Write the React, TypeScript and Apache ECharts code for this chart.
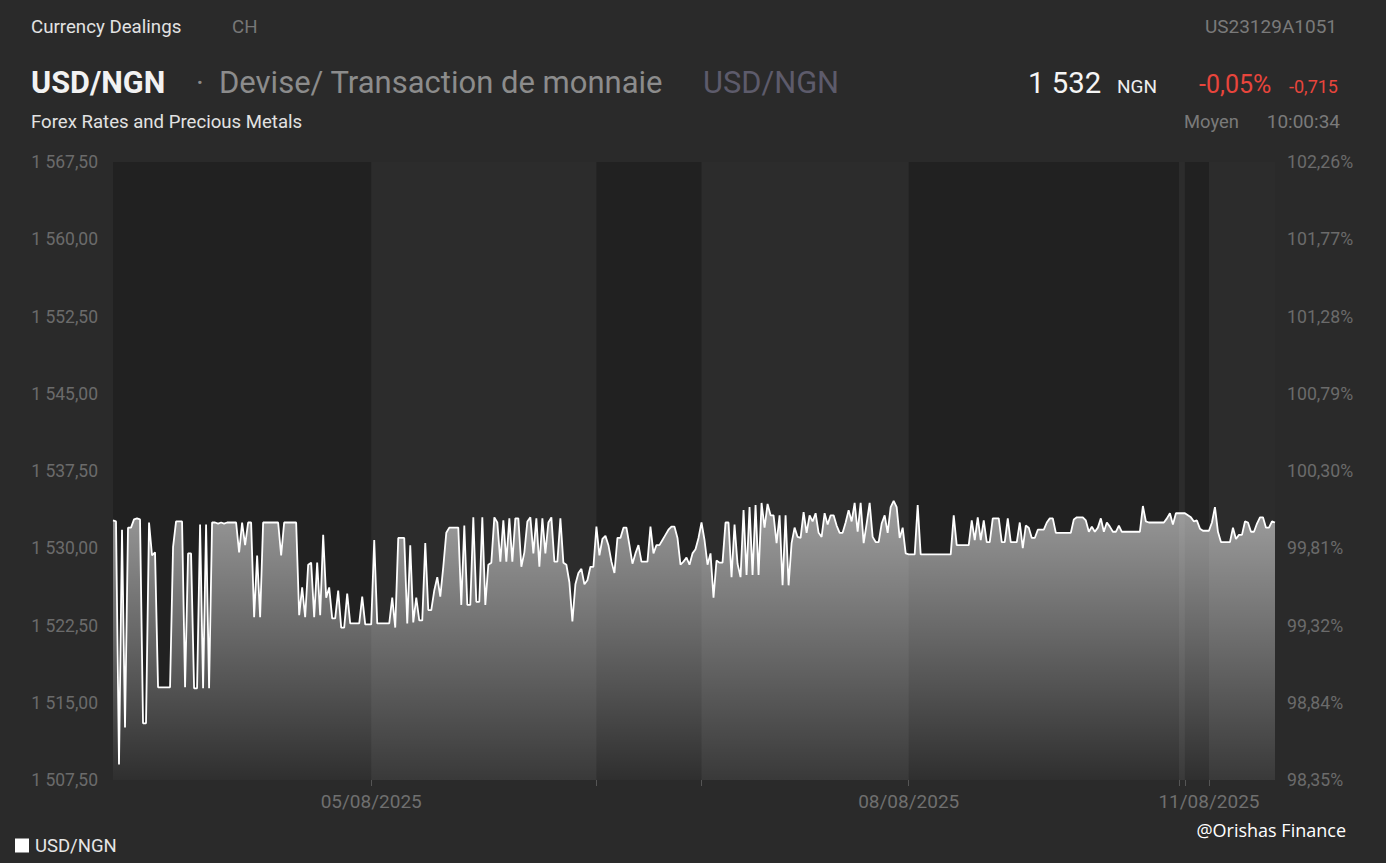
import React, { useEffect, useRef } from 'react';
import * as echarts from 'echarts';

// ---- data ----
const dayLabels = ['04/08/2025', '05/08/2025', '06/08/2025', '07/08/2025', '08/08/2025', '09/08/2025', '10/08/2025', '11/08/2025'];

const day04 = [
  1532.7, 1532.6, 1509.0, 1531.8, 1512.6, 1532.0, 1532.0, 1532.8, 1532.9, 1532.8,
  1513.0, 1513.0, 1532.5, 1529.3, 1529.6, 1516.5, 1516.5, 1516.5, 1516.5, 1516.5,
  1530.1, 1532.6, 1532.6, 1532.6, 1516.5, 1529.5, 1529.5, 1516.4, 1516.4, 1532.3,
  1516.4, 1532.3, 1516.4, 1532.5, 1532.5, 1532.4, 1532.5, 1532.4, 1532.5, 1532.5,
  1532.5, 1532.5, 1529.6, 1532.5, 1530.3, 1532.5, 1532.5, 1523.3, 1529.3, 1523.3,
  1532.5, 1532.5, 1532.5, 1532.5, 1532.5, 1532.5, 1529.3, 1532.5, 1532.5, 1532.5,
  1532.5, 1532.5, 1523.5, 1526.2, 1523.3, 1528.4, 1528.6, 1523.3, 1528.6, 1523.5,
  1531.3, 1525.2, 1526.2, 1523.2, 1523.2, 1525.9, 1522.3, 1522.3, 1525.6, 1522.7,
  1522.7, 1522.7, 1522.7, 1525.3, 1522.6, 1522.6,
];
const day05 = [
  1522.6, 1530.8, 1522.7, 1522.7, 1522.7, 1522.7, 1522.7, 1525.2, 1522.3, 1531.0,
  1531.0, 1531.0, 1522.7, 1530.3, 1522.8, 1525.2, 1523.0, 1523.0, 1530.5, 1524.0,
  1524.0, 1525.9, 1527.2, 1525.3, 1528.2, 1531.5, 1532.0, 1532.0, 1532.0, 1532.0,
  1524.5, 1532.2, 1524.5, 1524.5, 1533.0, 1524.8, 1524.8, 1533.0, 1524.5, 1528.4,
  1528.6, 1533.0, 1532.5, 1528.7, 1532.7, 1528.7, 1532.9, 1528.7, 1532.9, 1532.9,
  1528.2, 1529.6, 1532.6, 1533.0, 1529.5, 1532.9, 1528.2, 1532.9, 1529.5, 1532.5,
  1533.0, 1528.7, 1528.7, 1532.9, 1528.6, 1528.4, 1526.7, 1522.9, 1526.5, 1527.6,
  1528.0, 1526.5, 1526.9, 1528.2, 1528.2,
];
const day06 = [
  1532.1, 1529.3, 1530.9, 1531.2, 1530.3, 1528.7, 1527.6, 1531.0, 1531.0, 1532.0,
  1532.0, 1530.3, 1528.5, 1529.5, 1530.3, 1528.7, 1528.7, 1528.7, 1532.1, 1529.5,
  1530.3, 1530.3, 1530.8, 1531.3, 1531.8, 1532.1, 1532.1, 1531.0, 1528.4, 1528.7,
  1529.1, 1528.4, 1529.5, 1529.9, 1531.0,
];
const day07 = [
  1532.5, 1530.8, 1528.4, 1529.5, 1525.2, 1528.8, 1528.6, 1528.6, 1532.5, 1532.5,
  1527.2, 1532.3, 1528.5, 1527.2, 1533.7, 1527.4, 1534.0, 1527.4, 1534.2, 1527.4,
  1534.4, 1532.0, 1534.3, 1533.2, 1533.2, 1530.5, 1533.2, 1526.4, 1533.2, 1526.4,
  1530.5, 1532.0, 1531.1, 1531.0, 1533.5, 1531.5, 1533.2, 1532.6, 1533.4, 1531.5,
  1531.1, 1533.4, 1532.3, 1533.2, 1533.2, 1532.2, 1531.5, 1531.5, 1532.5, 1533.7,
  1532.6, 1534.4, 1531.6, 1534.4, 1530.5, 1532.4, 1534.4, 1531.1, 1530.6, 1530.6,
  1532.4, 1533.2, 1531.5, 1534.0, 1534.6, 1534.0, 1531.0, 1532.0, 1529.5,
];
const day08 = [
  1529.4, 1529.4, 1529.4, 1534.2, 1529.4, 1529.4, 1529.4, 1529.4, 1529.4, 1529.4,
  1529.4, 1529.4, 1529.4, 1529.4, 1529.4, 1533.2, 1530.3, 1530.3, 1530.3, 1530.3,
  1530.3, 1532.7, 1530.8, 1533.0, 1530.8, 1532.7, 1530.6, 1530.6, 1532.9, 1532.9,
  1532.9, 1530.6, 1530.6, 1532.9, 1530.6, 1530.6, 1530.6, 1532.5, 1530.0, 1532.2,
  1532.0, 1531.0, 1531.0, 1531.8, 1531.8, 1531.8, 1532.5, 1532.9, 1532.9, 1531.5,
  1531.5, 1531.5, 1531.5, 1531.5, 1531.5, 1532.8, 1533.0, 1533.0, 1533.0, 1532.7,
  1531.6, 1532.1, 1531.6, 1532.0, 1532.9, 1531.6, 1532.5, 1532.1, 1531.6, 1531.6,
  1532.2, 1531.6, 1531.6, 1531.6, 1531.6, 1531.6, 1531.6, 1531.6, 1534.1, 1532.6,
  1532.5, 1532.5, 1532.5, 1532.5, 1532.5, 1532.5, 1532.9, 1533.4, 1532.3, 1533.4,
];
const day09 = [1533.4, 1533.4];
const day10 = [1533.4, 1533.2, 1533.0, 1532.6, 1532.7, 1531.9, 1531.7, 1531.7];
const day11 = [
  1531.7, 1532.5, 1534.0, 1531.6, 1530.6, 1530.6, 1530.6, 1530.6, 1532.0, 1530.9,
  1531.3, 1531.3, 1532.6, 1532.5, 1531.6, 1531.6, 1532.4, 1533.0, 1533.0, 1532.0,
  1532.0, 1532.6, 1532.5,
];
const dayValues = [day04, day05, day06, day07, day08, day09, day10, day11];

const labelledDays = ['05/08/2025', '08/08/2025', '11/08/2025'];
const lightDays = ['05/08/2025', '07/08/2025', '09/08/2025', '11/08/2025'];

const leftTickLabels = ['1 507,50', '1 515,00', '1 522,50', '1 530,00', '1 537,50', '1 545,00', '1 552,50', '1 560,00', '1 567,50'];
const rightTickLabels = ['98,35%', '98,84%', '99,32%', '99,81%', '100,30%', '100,79%', '101,28%', '101,77%', '102,26%'];
const yMin = 1507.5;
const yMax = 1567.5;
const yStep = 7.5;

const seriesName = 'USD/NGN';

export default function App() {
  const ref = useRef<HTMLDivElement>(null);

  useEffect(() => {
    if (!ref.current) return;
    const chart = echarts.init(ref.current, undefined, { renderer: 'svg' });

    const categories: string[] = [];
    const values: number[] = [];
    const dayStart: number[] = [];
    dayValues.forEach((arr, d) => {
      dayStart.push(values.length);
      arr.forEach((v, k) => {
        categories.push(dayLabels[d] + '|' + k);
        values.push(v);
      });
    });
    const lastIdx = values.length - 1;
    const startSet = new Set(dayStart.slice(1));
    const labelSet = new Set(labelledDays.map((l) => dayStart[dayLabels.indexOf(l)]));

    const bands = lightDays.map((l) => {
      const d = dayLabels.indexOf(l);
      const s = dayStart[d];
      const e = d + 1 < dayStart.length ? dayStart[d + 1] : lastIdx;
      return [{ xAxis: s }, { xAxis: e }];
    });

    const font = 'Roboto, "Noto Sans", sans-serif';

    chart.setOption({
      animation: false,
      backgroundColor: '#2a2a2a',
      grid: {
        left: 113,
        right: 111,
        top: 162,
        bottom: 83,
        show: true,
        backgroundColor: '#212121',
        borderWidth: 0,
      },
      legend: {
        left: 15,
        top: 836,
        padding: 0,
        icon: 'rect',
        itemWidth: 14,
        itemHeight: 14,
        itemGap: 6,
        textStyle: { color: '#e6e6e6', fontSize: 18.5, fontFamily: font, padding: [0, 0, 0, 1] },
        data: [{ name: seriesName, itemStyle: { color: '#ffffff' } }],
      },
      xAxis: {
        type: 'category',
        boundaryGap: false,
        data: categories,
        axisLine: { show: false },
        axisTick: {
          show: true,
          length: 6,
          lineStyle: { color: '#555555', width: 1 },
          interval: (i: number) => startSet.has(i),
        },
        axisLabel: {
          color: '#6f6f6f',
          fontSize: 19,
          fontFamily: font,
          margin: 12,
          interval: (i: number) => labelSet.has(i),
          formatter: (v: string) => v.split('|')[0],
        },
        splitLine: { show: false },
      },
      yAxis: [
        {
          type: 'value',
          min: yMin,
          max: yMax,
          interval: yStep,
          position: 'left',
          axisLine: { show: false },
          axisTick: { show: false },
          splitLine: { show: false },
          axisLabel: {
            color: '#6b6b6b',
            fontSize: 17.5,
            fontFamily: font,
            margin: 15,
            formatter: (v: number) => leftTickLabels[Math.round((v - yMin) / yStep)] ?? '',
          },
        },
        {
          type: 'value',
          min: yMin,
          max: yMax,
          interval: yStep,
          position: 'right',
          axisLine: { show: false },
          axisTick: { show: false },
          splitLine: { show: false },
          axisLabel: {
            color: '#6b6b6b',
            fontSize: 17.7,
            fontFamily: font,
            margin: 12,
            formatter: (v: number) => rightTickLabels[Math.round((v - yMin) / yStep)] ?? '',
          },
        },
      ],
      series: [
        {
          name: seriesName,
          type: 'line',
          data: values,
          symbol: 'none',
          lineStyle: { color: '#ffffff', width: 1.8 },
          itemStyle: { color: '#ffffff' },
          areaStyle: {
            color: new echarts.graphic.LinearGradient(0, 0, 0, 1, [
              { offset: 0, color: 'rgba(255,255,255,0.78)' },
              { offset: 1, color: 'rgba(255,255,255,0.09)' },
            ]),
          },
          markArea: {
            silent: true,
            itemStyle: { color: '#2c2c2c', borderWidth: 0 },
            data: bands,
          },
        },
      ],
      graphic: [
        { type: 'text', left: 31, top: 17, style: { text: 'Currency Dealings', fill: '#e2e2e2', font: `18.7px ${font}` } },
        { type: 'text', left: 232, top: 17, style: { text: 'CH', fill: '#777777', font: `18.7px ${font}` } },
        { type: 'text', right: 49, top: 17, style: { text: 'US23129A1051', fill: '#7a7a7a', font: `19px ${font}` } },
        { type: 'text', left: 31, top: 67, style: { text: 'USD/NGN', fill: '#f2f2f2', font: `bold 30.6px ${font}` } },
        { type: 'text', left: 196, top: 67, style: { text: '·', fill: '#8a8a8a', font: `30px ${font}` } },
        { type: 'text', left: 219, top: 67, style: { text: 'Devise/ Transaction de monnaie', fill: '#8c8c8c', font: `31px ${font}` } },
        { type: 'text', left: 703, top: 67, style: { text: 'USD/NGN', fill: '#5d5b6b', font: `30.8px ${font}` } },
        { type: 'text', left: 1028, top: 68, style: { text: '1 532', fill: '#f5f5f5', font: `29.3px ${font}` } },
        { type: 'text', left: 1117, top: 77, style: { text: 'NGN', fill: '#eeeeee', font: `19px ${font}` } },
        { type: 'text', left: 1199, top: 72, style: { text: '-0,05%', fill: '#e8453c', font: `25px ${font}` } },
        { type: 'text', left: 1289, top: 77, style: { text: '-0,715', fill: '#e8453c', font: `18px ${font}` } },
        { type: 'text', left: 31, top: 112, style: { text: 'Forex Rates and Precious Metals', fill: '#e2e2e2', font: `18.6px ${font}` } },
        { type: 'text', left: 1184, top: 112, style: { text: 'Moyen', fill: '#7a7a7a', font: `18.4px ${font}` } },
        { type: 'text', right: 46, top: 112, style: { text: '10:00:34', fill: '#7a7a7a', font: `19px ${font}` } },
        { type: 'text', right: 40, top: 821, style: { text: '@Orishas Finance', fill: '#ffffff', font: `18px "Open Sans", sans-serif` } },
      ],
    });

    return () => chart.dispose();
  }, []);

  return (
    <div
      ref={ref}
      style={{ position: 'fixed', left: 0, top: 0, width: 1386, height: 863 }}
    />
  );
}
